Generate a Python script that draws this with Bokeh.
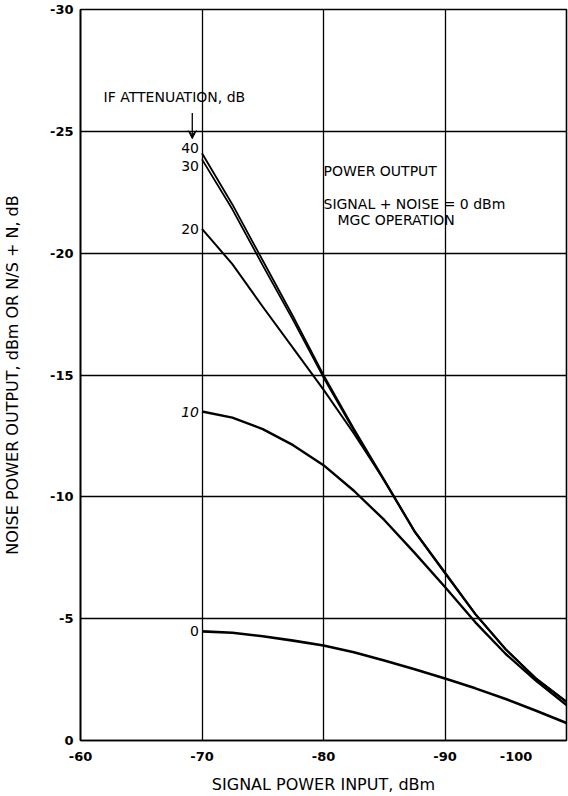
from bokeh.plotting import figure
from bokeh.models import Range1d, FixedTicker, Label, Arrow, VeeHead
from bokeh.embed import file_html
from bokeh.resources import INLINE

# ---- data ----
signal_dbm = [-70, -72.5, -75, -77.5, -80, -82.5, -85, -87.5, -90, -92.5, -95, -97.5, -100]
att_40 = [-24.1, -22.0, -19.7, -17.4, -15.0, -12.8, -10.7, -8.6, -6.9, -5.2, -3.75, -2.55, -1.6]
att_30 = [-23.85, -21.8, -19.5, -17.25, -14.9, -12.72, -10.65, -8.56, -6.86, -5.17, -3.73, -2.53, -1.58]
att_20 = [-21.0, -19.55, -17.8, -16.1, -14.4, -12.6, -10.68, -8.58, -6.88, -5.19, -3.74, -2.54, -1.59]
att_10 = [-13.5, -13.25, -12.78, -12.12, -11.3, -10.25, -9.05, -7.7, -6.3, -4.85, -3.55, -2.45, -1.45]
att_0 = [-4.48, -4.42, -4.28, -4.1, -3.9, -3.62, -3.28, -2.92, -2.54, -2.14, -1.7, -1.22, -0.72]

curve_names = ["40", "30", "20", "10", "0"]
x_ticks = [-60, -70, -80, -90, -100]
x_tick_labels = ["-60", "-70", "-80", "-90", "-100"]
y_ticks = [0, -5, -10, -15, -20, -25, -30]
y_tick_labels = ["0", "-5", "-10", "-15", "-20", "-25", "-30"]

FONT = "DejaVu Sans"

p = figure(width=568, height=796, x_range=Range1d(-60, -100), y_range=Range1d(0, -30),
           output_backend="svg", toolbar_location=None,
           min_border_left=80, min_border_right=2, min_border_top=9, min_border_bottom=56)

p.background_fill_color = "white"
p.border_fill_color = "white"
p.outline_line_color = "black"
p.outline_line_width = 1.6

# axes
NBSP = "\u00a0"
p.xaxis.ticker = FixedTicker(ticks=x_ticks)
p.yaxis.ticker = FixedTicker(ticks=y_ticks)
p.xaxis.major_label_overrides = {t: (l if t != -100 else l + NBSP * 8) for t, l in zip(x_ticks, x_tick_labels)}
p.yaxis.major_label_overrides = {t: l for t, l in zip(y_ticks, y_tick_labels)}
for ax in (p.xaxis, p.yaxis):
    ax.major_tick_out = 0
    ax.major_tick_in = 0
    ax.minor_tick_out = 0
    ax.minor_tick_in = 0
    ax.axis_line_color = "black"
    ax.axis_line_width = 1.6
    ax.major_label_text_font = FONT
    ax.major_label_text_font_style = "bold"
    ax.major_label_text_font_size = "13px"
    ax.major_label_text_color = "black"
    ax.axis_label_text_font = FONT
    ax.axis_label_text_font_style = "normal"
    ax.axis_label_text_font_size = "16px"
    ax.axis_label_text_color = "black"

p.xaxis.axis_label = "SIGNAL POWER INPUT, dBm"
p.yaxis.axis_label = "NOISE POWER OUTPUT, dBm OR N/S + N, dB"
p.xaxis.major_label_standoff = 8
p.yaxis.major_label_standoff = 7
p.xaxis.axis_label_standoff = 8
p.yaxis.axis_label_standoff = 25

# grid
p.xgrid.ticker = FixedTicker(ticks=[-70, -80, -90])
p.ygrid.ticker = FixedTicker(ticks=[-5, -10, -15, -20, -25])
for g in (p.xgrid, p.ygrid):
    g.grid_line_color = "black"
    g.grid_line_width = 1.3
    g.grid_line_alpha = 1.0

# curves
p.line(signal_dbm, att_0, line_color="black", line_width=2.6, line_join="round")
p.line(signal_dbm, att_10, line_color="black", line_width=2.4, line_join="round")
p.line(signal_dbm, att_20, line_color="black", line_width=2.0, line_join="round")
p.line(signal_dbm, att_30, line_color="black", line_width=1.8, line_join="round")
p.line(signal_dbm, att_40, line_color="black", line_width=1.8, line_join="round")

# curve labels at the start of each curve
starts = [att_40[0], att_30[0], att_20[0], att_10[0], att_0[0]]
offsets = [5, -7, 0, 0, 0]
styles = ["normal", "normal", "normal", "italic", "normal"]
for name, y0, off, st in zip(curve_names, starts, offsets, styles):
    p.add_layout(Label(x=signal_dbm[0], y=y0, x_offset=-3, y_offset=off, text=name,
                       text_align="right", text_baseline="middle",
                       text_font=FONT, text_font_size="14px", text_font_style=st,
                       text_color="black"))

# annotations
p.add_layout(Label(x=-61.9, y=-26.4, text="IF ATTENUATION, dB", text_align="left",
                   text_baseline="middle", text_font=FONT, text_font_size="14px",
                   text_color="black"))
p.add_layout(Arrow(x_start=-69.2, y_start=-25.75, x_end=-69.2, y_end=-24.7,
                   line_color="black", line_width=1.3,
                   end=VeeHead(size=8, line_color="black", fill_color="black", line_width=1)))
p.add_layout(Label(x=-80.0, y=-23.36, text="POWER OUTPUT", text_align="left",
                   text_baseline="middle", text_font=FONT, text_font_size="14px",
                   text_color="black"))
p.add_layout(Label(x=-80.0, y=-22.0, text="SIGNAL + NOISE = 0 dBm", text_align="left",
                   text_baseline="middle", text_font=FONT, text_font_size="14px",
                   text_color="black"))
p.add_layout(Label(x=-81.15, y=-21.35, text="MGC OPERATION", text_align="left",
                   text_baseline="middle", text_font=FONT, text_font_size="14px",
                   text_color="black"))

open("out.html", "w").write(file_html(p, INLINE))
